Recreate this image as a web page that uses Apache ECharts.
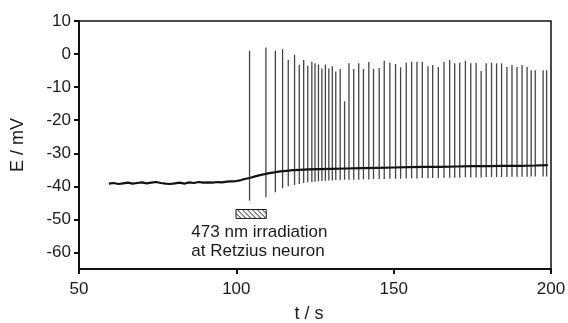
<!DOCTYPE html>
<html>
<head>
<meta charset="utf-8">
<script src="https://cdn.jsdelivr.net/npm/echarts@6/dist/echarts.min.js"></script>
<style>
  html, body { margin: 0; padding: 0; background: #fff; }
  #chart { width: 568px; height: 323px; }
</style>
</head>
<body>
<div id="chart"></div>
<script>
// resting potential trace [t (s), E (mV)]
var baseline = [
  [59.5, -39.2], [61, -39.0], [62.5, -39.3], [64, -39.1], [65.5, -38.9], [67, -39.2],
  [68.5, -39.0], [70, -38.8], [71.5, -39.1], [73, -38.9], [74.5, -38.7], [76, -39.0],
  [77.5, -39.2], [79, -39.3], [80.5, -39.1], [82, -38.9], [83.5, -39.2], [85, -38.8],
  [86.5, -39.0], [88, -38.7], [89.5, -38.9], [91, -38.8], [92.5, -38.9], [94, -38.7],
  [95.5, -38.8], [97, -38.6], [98.5, -38.5], [100, -38.4], [101.5, -38.1], [103, -37.7],
  [104.5, -37.4], [106, -37.0], [107.5, -36.6], [109, -36.3], [110.5, -36.0], [112, -35.8],
  [114, -35.5], [116, -35.3], [118, -35.1], [120, -35.0], [123, -34.9], [126, -34.8],
  [130, -34.7], [135, -34.6], [140, -34.5], [145, -34.4], [150, -34.3], [155, -34.2],
  [160, -34.1], [165, -34.1], [170, -34.0], [175, -33.9], [180, -33.9], [185, -33.8],
  [190, -33.8], [195, -33.7], [199, -33.6]
];

// action potentials
var spikeTimes = [
  104.2, 109.4, 112.4, 114.7, 116.5, 118.5, 120.0, 121.4, 122.7, 124.0,
  125.0, 126.1, 127.2, 128.3, 129.4, 130.5, 131.6, 133.0, 134.4, 135.8,
  137.3, 138.9, 140.4, 142.1, 143.6, 145.4, 147.0, 148.8, 150.6, 152.2,
  154.0, 155.7, 157.4, 159.1, 160.9, 162.4, 164.2, 166.0, 167.8, 169.4,
  171.0, 172.8, 174.5, 176.2, 177.8, 179.4, 181.1, 182.7, 184.3, 186.0,
  187.6, 189.2, 190.8, 192.4, 193.7, 195.0, 197.5, 198.6
];
var spikePeaks = [
  1.0, 2.0, 1.0, 1.5, -1.8, -0.2, -3.2, -1.8, -3.5, -2.3,
  -2.8, -3.2, -4.4, -3.2, -4.4, -3.7, -5.3, -4.5, -14.3, -2.8,
  -4.5, -2.8, -4.5, -2.4, -4.5, -4.2, -2.0, -2.6, -3.0, -4.0,
  -2.6, -2.3, -2.3, -2.3, -3.7, -3.3, -3.9, -2.4, -1.8, -2.8,
  -2.6, -2.0, -2.8, -2.6, -5.1, -2.8, -2.6, -2.8, -2.8, -3.9,
  -3.3, -3.9, -3.3, -3.9, -4.9, -4.9, -4.9, -4.9
];
var spikeTroughs = [
  -44.3, -43.3, -41.8, -40.6, -40.0, -39.6, -39.3, -39.0, -38.8, -38.7,
  -38.6, -38.5, -38.4, -38.3, -38.2, -38.2, -38.1, -38.1, -38.0, -38.0,
  -38.0, -38.0, -37.9, -37.9, -37.8, -37.8, -37.8, -37.7, -37.7, -37.7,
  -37.6, -37.6, -37.6, -37.5, -37.5, -37.5, -37.5, -37.4, -37.4, -37.4,
  -37.4, -37.3, -37.3, -37.3, -37.3, -37.2, -37.2, -37.2, -37.2, -37.2,
  -37.1, -37.1, -37.1, -37.1, -37.0, -37.0, -37.0, -37.0
];

// irradiation window [tStart, tEnd, eTop, eBottom]
var irradiation = [[99.9, 109.5, -47.0, -49.7]];
var irradiationLabel = '473 nm irradiation\nat Retzius neuron';
var labelAnchor = [85.7, -56.9];

var yTicks = [-60, -50, -40, -30, -20, -10, 0, 10];

var spikeData = spikeTimes.map(function (t, i) {
  return [t, spikePeaks[i], spikeTroughs[i]];
});

var chart = echarts.init(document.getElementById('chart'));
var font = 'Liberation Sans, Arial, sans-serif';

chart.setOption({
  animation: false,
  backgroundColor: '#fff',
  grid: {
    left: 79, right: 17, top: 21, bottom: 54,
    containLabel: false, outerBoundsMode: 'none',
    show: true, borderColor: '#111', borderWidth: 1.5
  },
  xAxis: {
    type: 'value', min: 50, max: 200, interval: 50,
    name: 't / s', nameLocation: 'middle', nameGap: 36,
    nameTextStyle: { color: '#1a1a1a', fontSize: 18, fontFamily: font, padding: [0, 12, 0, 0] },
    axisLine: { onZero: false, lineStyle: { color: '#111', width: 2 } },
    axisTick: { show: true, length: 5, lineStyle: { color: '#111', width: 2 } },
    axisLabel: { color: '#1a1a1a', fontSize: 17, fontFamily: font, margin: 12 },
    splitLine: { show: false }
  },
  yAxis: {
    type: 'value', min: -65, max: 10,
    name: 'E / mV', nameLocation: 'middle', nameGap: 52,
    nameTextStyle: { color: '#1a1a1a', fontSize: 18, fontFamily: font },
    axisLine: { lineStyle: { color: '#111', width: 2 } },
    axisTick: { show: true, length: 5, customValues: yTicks, lineStyle: { color: '#111', width: 2 } },
    axisLabel: { color: '#1a1a1a', fontSize: 17, fontFamily: font, margin: 8, customValues: yTicks },
    splitLine: { show: false }
  },
  series: [
    {
      type: 'custom',
      data: spikeData,
      z: 2,
      renderItem: function (params, api) {
        var top = api.coord([api.value(0), api.value(1)]);
        var bot = api.coord([api.value(0), api.value(2)]);
        return {
          type: 'line',
          shape: { x1: top[0], y1: top[1], x2: bot[0], y2: bot[1] },
          style: { stroke: '#444', lineWidth: 1.3 }
        };
      }
    },
    {
      type: 'line',
      data: baseline,
      showSymbol: false,
      z: 3,
      lineStyle: { color: '#111', width: 2.2 }
    },
    {
      type: 'custom',
      data: irradiation,
      z: 4,
      renderItem: function (params, api) {
        var p1 = api.coord([api.value(0), api.value(2)]);
        var p2 = api.coord([api.value(1), api.value(3)]);
        var x = p1[0], y = p1[1], w = p2[0] - p1[0], h = p2[1] - p1[1];
        var kids = [{
          type: 'rect',
          shape: { x: x, y: y, width: w, height: h },
          style: { fill: '#fff', stroke: '#111', lineWidth: 1 }
        }];
        var step = 5;
        for (var s = -h; s < w; s += step) {
          var xa = x + s, ya = y, xb = x + s + h, yb = y + h;
          if (xa < x) { ya = y + (x - xa); xa = x; }
          if (xb > x + w) { yb = y + h - (xb - x - w); xb = x + w; }
          kids.push({
            type: 'line',
            shape: { x1: xa, y1: ya, x2: xb, y2: yb },
            style: { stroke: '#222', lineWidth: 1 }
          });
        }
        var lp = api.coord(labelAnchor);
        kids.push({
          type: 'text',
          style: {
            x: lp[0], y: lp[1], text: irradiationLabel,
            fill: '#1a1a1a', fontSize: 17, fontFamily: font,
            align: 'left', verticalAlign: 'middle', lineHeight: 19
          }
        });
        return { type: 'group', children: kids };
      }
    }
  ]
});
</script>
</body>
</html>
